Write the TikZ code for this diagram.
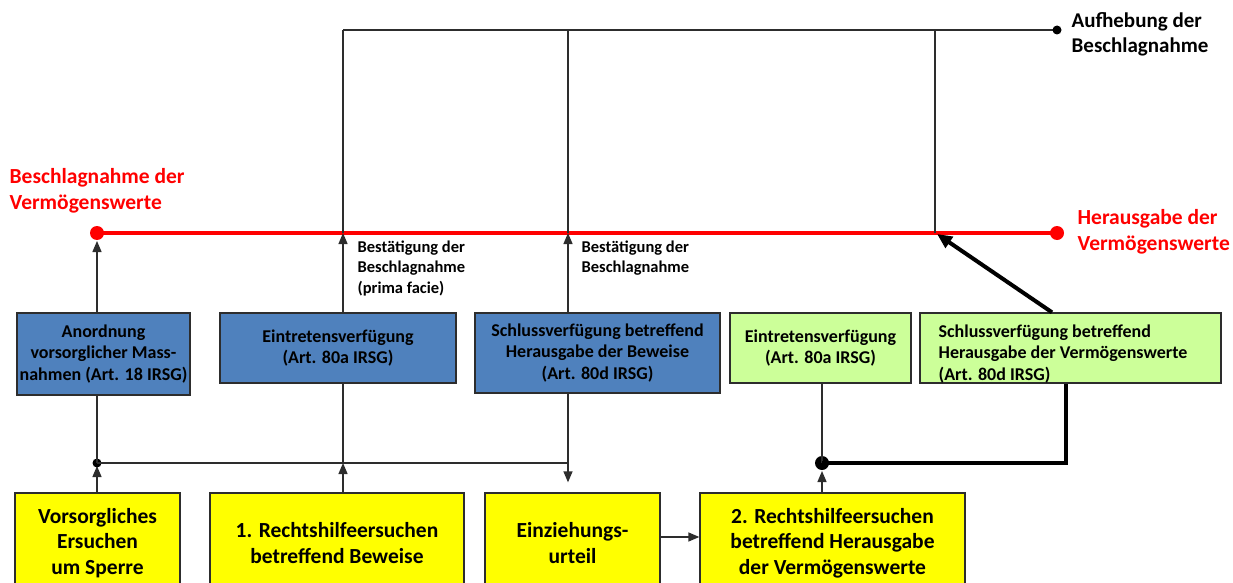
\documentclass[tikz,border=0pt]{standalone}
\usepackage{fontspec}
\setmainfont{Carlito}
\usetikzlibrary{arrows.meta}
\definecolor{boxblue}{RGB}{79,129,189}
\definecolor{boxgreen}{RGB}{204,255,153}
\definecolor{boxyellow}{RGB}{255,255,0}
\definecolor{linegray}{RGB}{45,45,45}
\definecolor{seizered}{RGB}{255,0,0}

\begin{document}
\begin{tikzpicture}[x=1pt, y=-1pt, every path/.style={line width=1.3pt},
	box/.style={draw=linegray, line width=1.3pt, inner sep=0pt, align=center},
	bluebox/.style={box, fill=boxblue, font=\fontsize{18}{21.5}\selectfont\bfseries},
	greenbox/.style={box, fill=boxgreen, font=\fontsize{18}{21.5}\selectfont\bfseries},
	yellowbox/.style={box, fill=boxyellow, minimum height=100pt, font=\fontsize{21.5}{25.5}\selectfont\bfseries},
	note/.style={inner sep=0pt, align=left, font=\fontsize{16.5}{20.5}\selectfont\bfseries},
	redlabel/.style={inner sep=0pt, align=left, text=seizered, font=\fontsize{21.5}{26}\selectfont\bfseries},
	toplabel/.style={inner sep=0pt, align=left, font=\fontsize{21}{25}\selectfont\bfseries},
	tip/.style={-{Triangle[length=11pt,width=9pt]}},
	bigtip/.style={-{Triangle[length=15pt,width=13pt]}},
	thin/.style={draw=linegray, line width=1.3pt},
	fat/.style={draw=black, line width=4pt}]
	\useasboundingbox (0,0) rectangle (1233,583);

	\node[yellowbox, minimum width=165pt] (vors) at (97.5,543) {Vorsorgliches\\Ersuchen\\um Sperre};
	\node[yellowbox, minimum width=254pt] (rhA) at (337,543) {1. Rechtshilfeersuchen\\betreffend Beweise};
	\node[yellowbox, minimum width=175pt] (einz) at (572.5,543) {Einziehungs-\\urteil};
	\node[yellowbox, minimum width=265pt] (rhB) at (832.5,543) {2. Rechtshilfeersuchen\\betreffend Herausgabe\\der Vermögenswerte};

	\node[bluebox, minimum width=173pt, minimum height=82pt] (anord) at (103.5,354) {Anordnung\\vorsorglicher Mass-\\nahmen (Art. 18 IRSG)};
	\node[bluebox, minimum width=236pt, minimum height=70pt] (eintrA) at (338,348) {Eintretensverfügung\\(Art. 80a IRSG)};
	\node[bluebox, minimum width=245pt, minimum height=80pt] (schlA) at (597.5,353) {Schlussverfügung betreffend\\Herausgabe der Beweise\\(Art. 80d IRSG)};
	\node[greenbox, minimum width=181pt, minimum height=70pt] (eintrB) at (820.5,348) {Eintretensverfügung\\(Art. 80a IRSG)};
	\node[greenbox, minimum width=301pt, minimum height=70pt] (schlB) at (1070.5,348) {};
	\node[greenbox, draw=none, fill=none, align=flush left, anchor=west] (schlBtext) at (938,354) {Schlussverfügung betreffend\\Herausgabe der Vermögenswerte\\(Art. 80d IRSG)};

	\coordinate (redL) at (97,233);
	\coordinate (redR) at (1057,233);
	\coordinate (topL) at (343,30);
	\coordinate (topR) at (1057,30);
	\coordinate (joinA) at (97,463);
	\coordinate (joinB) at (568,463);
	\coordinate (joinC) at (822,463);
	\coordinate (redA) at (343,233);
	\coordinate (redB) at (568,233);
	\coordinate (redC) at (935,233);
	\coordinate (topB) at (568,30);
	\coordinate (topC) at (935,30);

	\draw[draw=seizered, line width=4pt] (redL) -- (redR);
	\fill[seizered] (redL) circle (7pt) (redR) circle (7pt);
	\draw[thin] (topL) -- (topR);
	\fill[black] (topR) circle (4.5pt);

	\node[redlabel, anchor=west] (seize) at (9,191) {Beschlagnahme der\\Vermögenswerte};
	\node[redlabel, anchor=west] (release) at (1077,232) {Herausgabe der\\Vermögenswerte};
	\node[toplabel, anchor=west] (lift) at (1071,34.5) {Aufhebung der\\Beschlagnahme};
	\node[note, anchor=north west] (confA) at (357,240) {Bestätigung der\\Beschlagnahme\\(prima facie)};
	\node[note, anchor=north west] (confB) at (581,240) {Bestätigung der\\Beschlagnahme};

	\draw[thin, tip] (vors.north -| joinA) -- ([yshift=-3pt]joinA);
	\fill[black] (joinA) circle (4.5pt);
	\draw[thin] (joinA) -- (anord.south -| joinA);
	\draw[thin, tip] (anord.north -| joinA) -- ([yshift=-8pt]redL);
	\draw[thin] (joinA) -- (joinB);

	\draw[thin, tip] (rhA.north -| redA) -- (redA |- joinA);
	\draw[thin] (redA |- joinA) -- (eintrA.south -| redA);
	\draw[thin, tip] (eintrA.north -| redA) -- (redA);
	\draw[thin] (redA) -- (topL);

	\draw[thin] (topB) -- (redB);
	\draw[thin, tip] (schlA.north -| redB) -- (redB);
	\draw[thin, tip] (schlA.south -| redB) -- ([yshift=10pt]einz.north -| redB);

	\draw[thin] (topC) -- (redC);
	\draw[fat, bigtip] (schlB.north -| 1052,0) -- ([shift={(2pt,-1pt)}]redC);

	\draw[thin, tip] (einz.east |- 0,537) -- (rhB.west |- 0,537);
	\draw[thin, tip] (rhB.north -| joinC) -- ([yshift=-8pt]joinC);
	\fill[black] (joinC) circle (7pt);
	\draw[thin] (joinC) -- (eintrB.south -| joinC);
	\draw[fat] (joinC) -- (1066,463) -- (schlB.south -| 1066,0);
\end{tikzpicture}
\end{document}
